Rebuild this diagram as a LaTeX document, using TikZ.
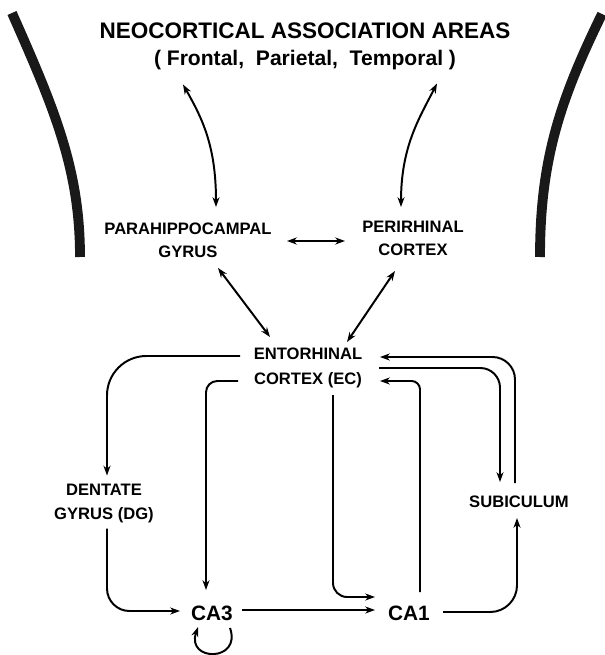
\documentclass[tikz,border=0pt]{standalone}
\usepackage{fontspec}
\setmainfont{Liberation Sans}
\usepackage{tikz}
\usetikzlibrary{calc}
\usetikzlibrary{arrows.meta}
\tikzstyle{region} = [align=center, inner sep=0pt, font=\fontsize{11.8}{16.5}\selectfont\bfseries]
\tikzstyle{field} = [inner sep=0pt, font=\fontsize{14.8}{17}\selectfont\bfseries]
\tikzstyle{flow} = [line width=1.4pt, -{Stealth[length=7pt,width=5pt]}]
\tikzstyle{bothway} = [line width=1.4pt, {Stealth[length=7pt,width=5pt]}-{Stealth[length=7pt,width=5pt]}]
\tikzstyle{wall} = [line width=7pt, line cap=butt, color=black!90]

\begin{document}
\begin{tikzpicture}[x=0.025cm, y=-0.025cm]

    \useasboundingbox (0,0) rectangle (604,655);

    % cortex outline
    \draw[wall] (12,13) .. controls (55,110) and (80,170) .. (80,257);
    \draw[wall] (602,14) .. controls (560,100) and (540,160) .. (540,257);

    \node[region, font=\fontsize{16}{19}\selectfont\bfseries] 
    (neo) at (305,46.5) {
        NEOCORTICAL ASSOCIATION AREAS\\
        {\fontsize{15}{19}\selectfont (~Frontal,~~Parietal,~~Temporal~)}
    };

    \node[region] (para) at (188,240) {PARAHIPPOCAMPAL\\GYRUS};
    \node[region] (peri) at (413,238) {PERIRHINAL\\CORTEX};
    \node[region, font=\fontsize{11.8}{17.5}\selectfont\bfseries] 
    (ec) at (308,368) {ENTORHINAL\\CORTEX (EC)};
    \node[region] (dg) at (104,503.5) {DENTATE\\GYRUS (DG)};
    \node[region] (sub) at (519,502) {SUBICULUM};
    \node[field] (ca3) at (212,613) {CA3};
    \node[field] (ca1) at (409,613) {CA1};

    \draw [bothway] ($(neo)+(-122,38)$) .. controls +(20,35) and +(0,-60) .. ($(para)+(28,-33)$);
    \draw [bothway] ($(neo)+(132,37)$) .. controls +(-18,35) and +(0,-60) .. ($(peri)+(-12,-31)$);
    \draw [bothway] ($(para)+(99,1)$) -- ($(peri)+(-68,3)$);
    \draw [bothway] ($(para)+(30,28)$) -- ($(ec)+(-38,-31)$);
    \draw [bothway] ($(peri)+(-18,33)$) -- ($(ec)+(39,-26)$);

    \draw [flow, rounded corners=28pt] ($(ec)+(-68,-12)$) -| ($(dg)+(3,-28)$);
    \draw [flow, rounded corners=8pt] ($(ec)+(-70,13)$) -| ($(ca3)+(-6,-23)$);
    \draw [flow, rounded corners=10pt] ($(ec)+(25,27)$) |- ($(ca1)+(-34,-16)$);
    \draw [flow, rounded corners=6pt] ($(ca1)+(11,-21)$) |- ($(ec)+(72,13)$);
    \draw [flow, rounded corners=14pt] ($(ec)+(71,0)$) -| ($(sub)+(-19,-20)$);
    \draw [flow, rounded corners=16pt] ($(sub)+(-4,-19)$) |- ($(ec)+(72,-11)$);
    \draw [flow, rounded corners=16pt] ($(dg)+(3,25)$) |- ($(ca3)+(-32,-2)$);
    \draw [flow] ($(ca3)+(30,-3)$) -- ($(ca1)+(-34,-3)$);
    \draw [flow, rounded corners=19pt] ($(ca1)+(34,-1)$) -| ($(sub)+(-2,16)$);
    \draw [flow] ($(ca3)+(18,15)$) .. controls +(12,34) and +(-12,35) .. ($(ca3)+(-14,14)$);

\end{tikzpicture}
\end{document}
